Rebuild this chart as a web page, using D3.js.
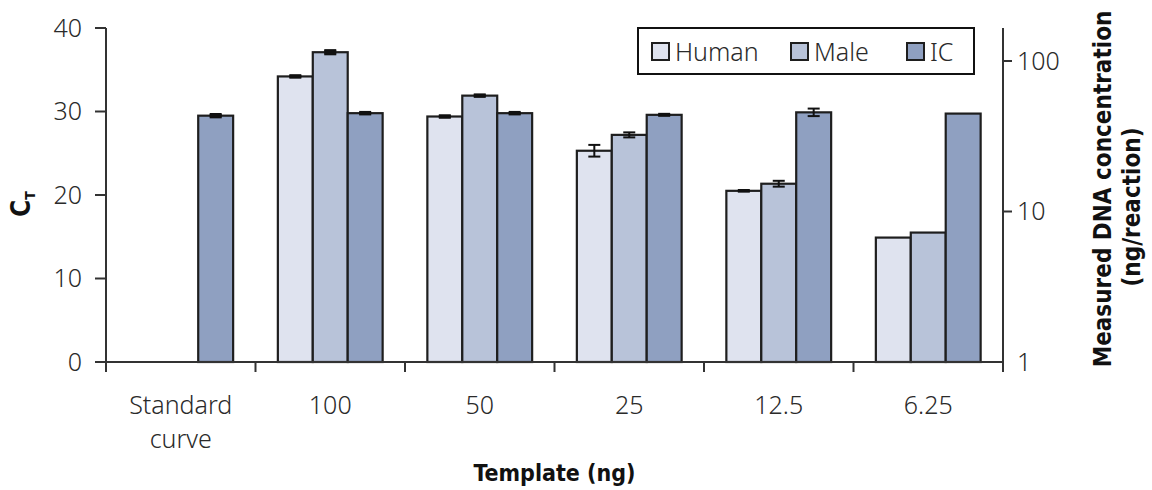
<!DOCTYPE html>
<html>
<head>
<meta charset="utf-8">
<script src="https://cdn.jsdelivr.net/npm/d3@7"></script>
<style>
  html, body { margin: 0; padding: 0; background: #fff; }
  svg { display: block; }
  .tick-label { font-family: "Noto Sans", "Open Sans", sans-serif; font-size: 25px; font-weight: 300; fill: #2a2a2a; }
  .title { font-family: "DejaVu Sans Condensed", "Liberation Sans Narrow", sans-serif; font-weight: bold; fill: #111; }
</style>
</head>
<body>
<svg id="chart" width="1152" height="490"></svg>
<script>
// Template amounts (ng) and the three assay targets
const categories = ["Standard curve", "100", "50", "25", "12.5", "6.25"];
const series = ["Human", "Male", "IC"];

// Mean CT per target for each template amount (null = not measured)
const humanCt = [null, 34.2, 29.4, 25.3, 20.5, 14.9];
const maleCt  = [null, 37.1, 31.9, 27.2, 21.35, 15.5];
const icCt    = [29.5, 29.8, 29.8, 29.6, 29.9, 29.75];

// Error bar half-heights (CT units)
const humanErr = [null, 0.15, 0.15, 0.7, 0.1, 0];
const maleErr  = [null, 0.25, 0.15, 0.3, 0.35, 0];
const icErr    = [0.2, 0.15, 0.15, 0.12, 0.45, 0];

// Axis ticks
const leftTicks = [0, 10, 20, 30, 40];
const rightTicks = [1, 10, 100];

const colors = { Human: "#dfe3ef", Male: "#b8c3d9", IC: "#8fa0c1" };

const svg = d3.select("#chart");
const plotLeft = 106, plotRight = 1003, plotTop = 28, plotBottom = 362;

const x0 = d3.scaleBand().domain(categories).range([plotLeft, plotRight]).paddingInner(0).paddingOuter(0);
const x1 = d3.scaleBand().domain(series).range([0, x0.bandwidth()]).paddingInner(0).paddingOuter(0.64);
const y = d3.scaleLinear().domain([0, 40]).range([plotBottom, plotTop]);
const yR = d3.scaleLog().domain([1, 10 ** ((plotBottom - plotTop) / 150.5)]).range([plotBottom, plotTop]);

const valueBy = { Human: humanCt, Male: maleCt, IC: icCt };
const errBy = { Human: humanErr, Male: maleErr, IC: icErr };

const rows = [];
categories.forEach((c, i) => {
  series.forEach(s => {
    const v = valueBy[s][i];
    if (v != null) rows.push({ cat: c, s, v, e: errBy[s][i] });
  });
});

// Bars
const g = svg.append("g");
g.selectAll("rect.bar").data(rows).join("rect")
  .attr("class", "bar")
  .attr("x", d => x0(d.cat) + x1(d.s))
  .attr("y", d => y(d.v))
  .attr("width", x1.bandwidth())
  .attr("height", d => y(0) - y(d.v))
  .attr("fill", d => colors[d.s])
  .attr("stroke", "#1e1e1e")
  .attr("stroke-width", 2.2);

// Error bars
const cx = d => x0(d.cat) + x1(d.s) + x1.bandwidth() / 2;
const eb = g.selectAll("g.err").data(rows.filter(d => d.e > 0)).join("g").attr("class", "err")
  .attr("stroke", "#111").attr("stroke-width", 2);
eb.append("line")
  .attr("x1", cx).attr("x2", cx)
  .attr("y1", d => y(d.v + d.e)).attr("y2", d => y(d.v - d.e));
[1, -1].forEach(sgn => {
  eb.append("line")
    .attr("x1", d => cx(d) - 6).attr("x2", d => cx(d) + 6)
    .attr("y1", d => y(d.v + sgn * d.e)).attr("y2", d => y(d.v + sgn * d.e));
});
// solid cap block for tight intervals
eb.filter(d => d.e < 0.3).append("rect")
  .attr("x", d => cx(d) - 6)
  .attr("y", d => y(d.v + d.e))
  .attr("width", 12)
  .attr("height", d => Math.max(1, y(d.v - d.e) - y(d.v + d.e)))
  .attr("fill", "#111").attr("stroke", "none");

// Axes
const axisColor = "#333";
const axes = svg.append("g").attr("stroke", axisColor).attr("stroke-width", 2).attr("fill", "none");
axes.append("line").attr("x1", plotLeft).attr("x2", plotLeft).attr("y1", plotTop).attr("y2", plotBottom + 10);
axes.append("line").attr("x1", plotRight).attr("x2", plotRight).attr("y1", plotTop).attr("y2", plotBottom + 10);
axes.append("line").attr("x1", plotLeft - 11).attr("x2", plotRight).attr("y1", plotBottom).attr("y2", plotBottom);

// Left ticks
axes.selectAll("line.lt").data(leftTicks).join("line")
  .attr("x1", plotLeft - 11).attr("x2", plotLeft).attr("y1", d => y(d)).attr("y2", d => y(d));
svg.selectAll("text.lt").data(leftTicks).join("text")
  .attr("class", "tick-label lt")
  .attr("x", 82).attr("y", d => y(d)).attr("dy", "0.35em")
  .attr("text-anchor", "end").text(d => d);

// Right log ticks
axes.selectAll("line.rt").data(rightTicks.filter(d => d > 1)).join("line")
  .attr("x1", plotRight).attr("x2", plotRight + 9).attr("y1", d => yR(d)).attr("y2", d => yR(d));
svg.selectAll("text.rt").data(rightTicks).join("text")
  .attr("class", "tick-label rt")
  .attr("x", 1017).attr("y", d => yR(d)).attr("dy", "0.35em")
  .attr("text-anchor", "start").text(d => d);

// Category boundary ticks
const bounds = categories.map(c => x0(c)).concat([plotRight]);
axes.selectAll("line.xt").data(bounds).join("line")
  .attr("x1", d => d).attr("x2", d => d).attr("y1", plotBottom).attr("y2", plotBottom + 10);

// Category labels (two-line label drawn as separate text elements)
const xlLines = [];
categories.forEach(c => {
  const words = c === "Standard curve" ? ["Standard", "curve"] : [c];
  words.forEach((w, i) => xlLines.push({ c, w, i }));
});
svg.selectAll("text.xl").data(xlLines).join("text")
  .attr("class", "tick-label xl")
  .attr("x", d => x0(d.c) + x0.bandwidth() / 2)
  .attr("y", d => 414 + d.i * 34)
  .attr("text-anchor", "middle")
  .text(d => d.w);

// Axis titles
svg.append("text").attr("class", "title")
  .attr("x", (plotLeft + plotRight) / 2).attr("y", 481)
  .attr("text-anchor", "middle").attr("font-size", 23)
  .text("Template (ng)");

const ct = svg.append("text").attr("class", "title")
  .attr("transform", "translate(30,204) rotate(-90)")
  .attr("text-anchor", "middle").attr("font-size", 26);
ct.append("tspan").text("C");
ct.append("tspan").attr("font-size", 14).attr("dy", 5).text("T");

svg.append("text").attr("class", "title")
  .attr("transform", "translate(1111,189) rotate(-90)")
  .attr("text-anchor", "middle").attr("font-size", 24)
  .text("Measured DNA concentration");
svg.append("text").attr("class", "title")
  .attr("transform", "translate(1140,207) rotate(-90)")
  .attr("text-anchor", "middle").attr("font-size", 24)
  .text("(ng/reaction)");

// Legend
const legend = svg.append("g");
legend.append("rect").attr("x", 638).attr("y", 28).attr("width", 336).attr("height", 46)
  .attr("fill", "#fff").attr("stroke", "#111").attr("stroke-width", 2);
const legendX = { Human: 652, Male: 791, IC: 907 };
series.forEach(s => {
  legend.append("rect").attr("x", legendX[s]).attr("y", 43).attr("width", 17).attr("height", 17)
    .attr("fill", colors[s]).attr("stroke", "#1e1e1e").attr("stroke-width", 2);
  legend.append("text").attr("class", "tick-label")
    .attr("x", legendX[s] + 23).attr("y", 52).attr("dy", "0.35em").text(s);
});
</script>
</body>
</html>
